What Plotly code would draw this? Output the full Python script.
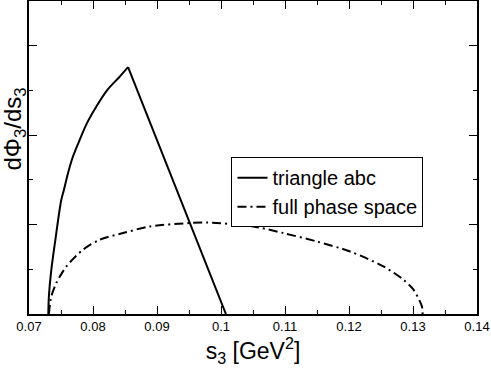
import plotly.graph_objects as go

# triangle abc curve: rising branch up to the kink, then a straight fall
tri_rise_s = [0.07302, 0.07311, 0.07343, 0.07412, 0.07505, 0.07546, 0.07609, 0.07687,
              0.07792, 0.07906, 0.08053, 0.08225, 0.08418, 0.08548]
tri_rise_v = [0.0, 0.197, 0.458, 0.830, 1.277, 1.389, 1.575, 1.761,
              1.947, 2.134, 2.320, 2.506, 2.655, 2.760]
tri_fall_s = [0.08548, 0.10077]
tri_fall_v = [2.760, 0.0]

# full phase space
ps_s = [0.07311, 0.07349, 0.07427, 0.07584, 0.07843, 0.08105, 0.08469, 0.08887, 0.09513, 0.09775,
        0.10504, 0.10973, 0.11496, 0.12017, 0.12538, 0.12851, 0.13008, 0.13139, 0.1315]
ps_v = [0.0, 0.197, 0.346, 0.532, 0.718, 0.830, 0.905, 0.979, 1.017, 1.023,
        0.979, 0.905, 0.811, 0.699, 0.532, 0.383, 0.272, 0.085, 0.0]

x_ticks = [0.07, 0.08, 0.09, 0.1, 0.11, 0.12, 0.13, 0.14]
x_labels = ["0.07", "0.08", "0.09", "0.1", "0.11", "0.12", "0.13", "0.14"]

FONT = "Liberation Sans, Arial"

fig = go.Figure()
fig.add_scatter(x=tri_rise_s, y=tri_rise_v, mode="lines", name="triangle abc",
                legendgroup="tri",
                line=dict(color="black", width=2, shape="spline", smoothing=1,
                          simplify=False))
fig.add_scatter(x=tri_fall_s, y=tri_fall_v, mode="lines", name="triangle abc",
                legendgroup="tri", showlegend=False,
                line=dict(color="black", width=2))
fig.add_scatter(x=ps_s, y=ps_v, mode="lines", name="full phase space",
                line=dict(color="black", width=2, dash="9px,4px,2px,4px",
                          shape="spline", smoothing=0.8, simplify=False))

axis_common = dict(
    showgrid=False, zeroline=False, showline=True, linecolor="black", linewidth=1.5,
    mirror="ticks", ticks="inside", ticklen=8, tickcolor="black", tickwidth=1,
    automargin=False,
)

fig.update_xaxes(
    range=[0.07, 0.14], tickvals=x_ticks, ticktext=x_labels,
    tickfont=dict(family=FONT, size=13, color="black"),
    minor=dict(dtick=0.005, ticks="inside", ticklen=4, tickcolor="black"),
    title=dict(text="s<sub>3</sub> [GeV<sup>2</sup>]", standoff=4,
               font=dict(family=FONT, size=23, color="black")),
    **axis_common,
)
fig.update_yaxes(
    range=[0, 3.5], dtick=1, showticklabels=False,
    minor=dict(dtick=0.5, ticks="inside", ticklen=4, tickcolor="black"),
    **axis_common,
)

fig.add_annotation(
    text="dΦ<sub>3</sub>/ds<sub>3</sub>", textangle=-90,
    xref="paper", yref="paper", x=-0.033, y=0.59,
    xanchor="center", yanchor="middle", showarrow=False,
    font=dict(family=FONT, size=24, color="black"),
)

fig.update_layout(
    width=491, height=370,
    margin=dict(l=29, r=14, t=1, b=56),
    plot_bgcolor="white", paper_bgcolor="white",
    showlegend=True,
    legend=dict(x=0.452, y=0.501, xanchor="left", yanchor="top",
                bordercolor="black", borderwidth=1, bgcolor="white",
                itemwidth=30, tracegroupgap=0,
                font=dict(family=FONT, size=20, color="black")),
)

fig.write_html("out.html", config={"displayModeBar": False},
               post_script="document.body.style.margin='0px';")
